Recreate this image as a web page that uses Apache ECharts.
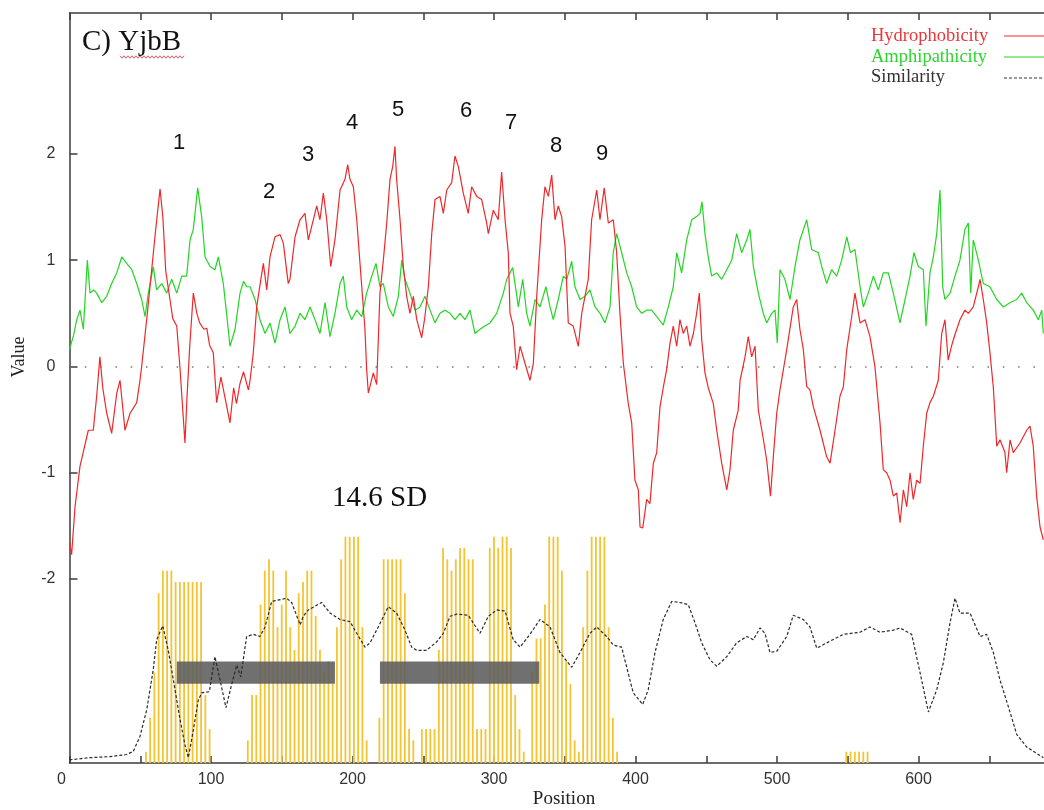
<!DOCTYPE html>
<html>
<head>
<meta charset="utf-8">
<script src="https://cdn.jsdelivr.net/npm/echarts@6/dist/echarts.min.js"></script>
<style>
html,body{margin:0;padding:0;background:#fff;}
#chart{width:1044px;height:810px;}
</style>
</head>
<body>
<div id="chart"></div>
<script>
// ---- data ----
const xTicks = [0, 100, 200, 300, 400, 500, 600, 700];
const yTicks = [-2, -1, 0, 1, 2];
const peakLabels = ['1', '2', '3', '4', '5', '6', '7', '8', '9'];
const seriesNames = ['Hydrophobicity', 'Amphipathicity', 'Similarity'];

const hydrophobicity = [[0,-1.66],[1.5,-1.77],[3.9,-1.32],[7.4,-0.94],[9.8,-0.8],[13.3,-0.6],[16.8,-0.6],[19.2,-0.28],[21.5,0.09],[23.5,-0.2],[26.3,-0.44],[29.8,-0.63],[33.4,-0.25],[35.7,-0.13],[39.2,-0.6],[42.8,-0.44],[47.5,-0.34],[49.8,-0.13],[51,0],[55,0.5],[58,0.9],[61,1.3],[64,1.67],[66,1.4],[68,0.9],[71,0.63],[73,0.45],[75.8,0.38],[78,0],[80,-0.4],[81.6,-0.72],[83,-0.3],[85,0.2],[87.5,0.69],[90,0.5],[92,0.41],[95,0.35],[97,0.36],[99,0.2],[101.6,0.13],[104,-0.34],[107,-0.1],[110,-0.3],[113.4,-0.53],[116,-0.2],[118,-0.35],[120.5,-0.16],[123,-0.05],[126.4,-0.22],[127.6,-0.13],[129.9,0.13],[132.3,0.56],[135,0.8],[137,0.97],[139.4,0.72],[141.7,1.03],[145.2,1.22],[148.8,1.24],[151.1,1.16],[154.6,0.78],[155.8,0.82],[159.4,1.22],[162.9,1.38],[166.4,1.44],[168.8,1.19],[172.3,1.38],[174.7,1.51],[177,1.38],[179.4,1.63],[181.8,1.38],[184.6,0.94],[187.6,1.19],[191.2,1.66],[194.7,1.76],[196.6,1.9],[198.2,1.76],[200.6,1.69],[203,1.38],[205.3,0.97],[208.8,0.35],[210,-0.03],[211.2,-0.25],[214.7,-0.06],[217.1,-0.17],[219.4,0.69],[221.8,1.0],[224.2,1.35],[226.5,1.76],[228.4,1.88],[230,2.07],[231.2,1.76],[233.6,1.38],[235.9,0.94],[238.3,0.66],[240.6,0.5],[243,0.66],[245.4,0.44],[248.9,0.27],[251.2,0.47],[253.6,0.75],[256,1.25],[258.3,1.57],[261.8,1.6],[264.2,1.44],[266.6,1.66],[270.1,1.73],[272.4,1.98],[274.8,1.88],[278.3,1.63],[281.8,1.44],[284.2,1.69],[287.8,1.6],[291.3,1.57],[294.8,1.35],[296,1.25],[299.5,1.47],[303,1.38],[305.4,1.83],[307.8,1.38],[310.1,1.07],[311.3,0.5],[313.6,0.38],[316,-0.03],[318.4,0.19],[321.9,0.03],[325.4,-0.13],[327.8,0.03],[330.2,0.66],[333.7,1.38],[336,1.69],[338.4,1.6],[340.8,1.8],[343.1,1.38],[345.4,1.51],[347.8,1.41],[350.2,1.13],[352.5,0.41],[356,0.38],[359.6,0.19],[362,0.5],[364.3,0.66],[366.6,0.82],[369,1.38],[372.6,1.66],[374.9,1.38],[377.9,1.68],[380.8,1.35],[384.3,1.38],[386.7,1.07],[389,0.5],[391.4,0.03],[394.9,-0.35],[397.3,-0.53],[399.6,-1.07],[402,-1.16],[403.2,-1.51],[405.1,-1.52],[407.9,-1.25],[410.2,-1.29],[412.6,-0.91],[415,-0.81],[417.3,-0.38],[419.6,-0.2],[422,-0.03],[424.4,0.22],[426.7,0.38],[429.1,0.19],[431.4,0.44],[433.8,0.31],[436.2,0.38],[438.5,0.19],[440.9,0.31],[443.2,0.5],[445.1,0.69],[446.8,0.25],[449.1,-0.06],[451.4,-0.2],[455,-0.35],[457.4,-0.6],[460.9,-0.91],[464.5,-1.16],[466.8,-0.97],[469.1,-0.6],[472.6,-0.41],[473.9,-0.13],[477.4,0.09],[479.7,0.28],[482.1,0.09],[484.5,0.19],[486.8,-0.41],[490.3,-0.68],[492.7,-0.88],[495.4,-1.22],[497.4,-0.85],[499.8,-0.44],[502.1,-0.22],[506.9,0.16],[511.5,0.56],[513.9,0.63],[516.2,0.35],[518.6,0.16],[521,-0.19],[523.3,-0.22],[525.7,-0.38],[530.4,-0.6],[535.1,-0.85],[537.5,-0.91],[541,-0.6],[544.5,-0.28],[546.9,-0.19],[549.3,0.16],[552.8,0.47],[555.1,0.69],[558.7,0.41],[562.2,0.44],[565.7,0.28],[569.2,0],[572.8,-0.53],[575.1,-0.97],[577.5,-1.0],[579.9,-1.07],[582.2,-1.22],[584.6,-1.19],[587,-1.47],[589.3,-1.16],[591.7,-1.32],[594,-1.0],[596.3,-1.25],[598.7,-1.07],[601.1,-1.1],[603.4,-0.75],[605.8,-0.44],[608.1,-0.34],[610.5,-0.28],[614,-0.13],[616.4,0.31],[618.7,0.44],[621,0.06],[623.5,0.2],[626,0.31],[629.3,0.44],[632.8,0.53],[635.2,0.5],[638.7,0.56],[642.3,0.75],[643.5,0.82],[645.8,0.63],[648.2,0.41],[650.5,0.13],[652.9,-0.2],[655.3,-0.75],[657.6,-0.69],[661.1,-0.81],[662.3,-1.0],[664.7,-0.69],[667,-0.81],[671.7,-0.72],[676.5,-0.6],[678.8,-0.56],[681.1,-0.75],[683.5,-1.22],[685.9,-1.51],[688.2,-1.63]];

const amphipathicity = [[0,0.16],[3,0.3],[5.1,0.44],[7.4,0.53],[9.8,0.35],[12.6,1.0],[14.5,0.69],[17,0.72],[19.2,0.69],[22.8,0.6],[26.3,0.66],[29.8,0.78],[33.4,0.88],[36.9,1.03],[40.4,0.97],[44,0.91],[47.5,0.78],[51,0.63],[53.4,0.47],[55.7,0.69],[59.2,0.94],[61.6,0.72],[65.2,0.78],[68.7,0.69],[72.2,0.82],[75.8,0.69],[79.3,0.85],[82.8,0.85],[85.2,1.19],[87.5,1.29],[90.6,1.68],[93.4,1.41],[95.8,1.03],[99.3,0.94],[102.8,0.91],[105.2,1.03],[108.7,0.78],[111,0.5],[113.4,0.19],[117,0.35],[120.5,0.69],[123,0.8],[125.2,0.75],[127.6,0.75],[131.1,0.63],[134.6,0.44],[138.2,0.31],[141.7,0.41],[145.2,0.22],[148.8,0.44],[152.3,0.56],[155.8,0.31],[159.4,0.38],[162.9,0.5],[166.4,0.44],[170,0.56],[173.5,0.44],[177,0.31],[180.6,0.6],[184.1,0.28],[187.6,0.5],[191.2,0.78],[193.5,0.85],[195.9,0.56],[199.4,0.44],[203,0.53],[206.5,0.47],[210,0.69],[213.6,0.85],[216.6,0.97],[219.4,0.75],[221.8,0.78],[225.3,0.56],[228.8,0.47],[232.4,0.66],[234.8,1.0],[237.1,0.82],[240.6,0.69],[244.2,0.53],[247.7,0.56],[251.2,0.66],[254.8,0.53],[258.3,0.41],[261.8,0.5],[265.4,0.53],[268.9,0.5],[272.4,0.44],[276,0.5],[279.5,0.44],[283,0.53],[286.6,0.31],[290.1,0.35],[293.6,0.38],[297.2,0.41],[301.9,0.5],[306.6,0.69],[309,0.82],[313.2,0.93],[317.2,0.56],[320.3,0.82],[323.1,0.5],[325.4,0.38],[329,0.63],[332.5,0.56],[336.7,0.75],[339.6,0.56],[341.9,0.44],[345.4,0.63],[349,0.85],[351.4,0.82],[354.9,0.99],[357.2,0.75],[360.8,0.63],[364.3,0.66],[367.8,0.72],[371.4,0.56],[374.9,0.5],[378.4,0.41],[382,0.56],[384.3,1.07],[386.7,1.25],[390.2,1.07],[393.8,0.88],[397.3,0.75],[400.8,0.56],[404.4,0.5],[407.9,0.53],[411.4,0.53],[415,0.47],[419.6,0.39],[423.2,0.56],[426.7,0.75],[429.1,1.07],[432.6,0.88],[436.2,1.19],[439.7,1.38],[443.2,1.41],[445.6,1.44],[447,1.55],[449.1,1.25],[451.4,1.03],[453.8,0.85],[457.4,0.88],[460.9,0.82],[464.5,0.91],[468,1.0],[471.5,1.25],[475,1.07],[478.6,1.19],[480.9,1.29],[483.3,0.94],[486.8,0.69],[490.3,0.5],[492.7,0.41],[496.3,0.5],[498.6,0.53],[500.2,0.22],[502.1,0.91],[505.6,0.82],[509.2,0.63],[512.7,0.94],[516.2,1.19],[521,1.38],[524.5,1.1],[529.2,1.07],[531.6,0.94],[535.1,0.78],[538.6,0.91],[542.2,0.85],[545.7,1.0],[549.3,1.22],[551.9,1.07],[555.1,1.1],[558.7,0.75],[561,0.56],[564.5,0.69],[568.1,0.85],[571.6,0.72],[575.1,0.88],[578.7,0.88],[582.2,0.69],[586.9,0.41],[590.5,0.63],[594,0.85],[596.8,1.07],[599.9,0.94],[603.4,0.91],[605.3,0.38],[608.1,0.88],[610.5,1.03],[612.9,1.25],[615.2,1.66],[617.1,0.75],[618.7,0.63],[622.3,0.69],[625.8,0.85],[629.3,1.0],[632.8,1.29],[635.2,1.35],[636.9,0.69],[638.7,1.19],[642.3,1.0],[645.8,0.78],[650.5,0.75],[655.3,0.63],[659.9,0.56],[664.7,0.6],[669.4,0.63],[672.9,0.69],[676.5,0.6],[681.1,0.53],[684.7,0.44],[687.1,0.53],[688.2,0.31]];

const similarity = [[0,-3.7],[14.5,-3.68],[28.6,-3.67],[40.4,-3.65],[45.1,-3.62],[49.8,-3.48],[54.6,-3.23],[59.2,-2.85],[61.6,-2.57],[65.9,-2.44],[69.8,-2.67],[73.4,-2.95],[78.1,-3.32],[81.6,-3.56],[84,-3.68],[87.5,-3.42],[91,-3.14],[93.4,-3.07],[98.8,-3.06],[102.8,-2.73],[106.4,-2.95],[110.6,-3.21],[114.6,-2.99],[118.2,-2.81],[121,-2.92],[125.2,-2.54],[130,-2.52],[134.6,-2.54],[138.2,-2.45],[142.9,-2.21],[150,-2.19],[153.5,-2.18],[157,-2.22],[163,-2.43],[165.2,-2.35],[168.8,-2.29],[178.2,-2.22],[184.1,-2.32],[191.2,-2.38],[198.2,-2.4],[203,-2.51],[208.8,-2.64],[212.4,-2.6],[218.2,-2.45],[225.3,-2.26],[231.2,-2.32],[237.1,-2.48],[241.8,-2.64],[245.4,-2.67],[252.4,-2.67],[259.5,-2.59],[264.2,-2.51],[268.9,-2.35],[273.6,-2.33],[281.8,-2.34],[290.1,-2.51],[296,-2.35],[301.9,-2.29],[307.8,-2.3],[313.6,-2.57],[318.4,-2.64],[325.4,-2.52],[332.5,-2.38],[339.6,-2.45],[346.6,-2.69],[354.9,-2.83],[360.8,-2.69],[367.8,-2.51],[372.6,-2.45],[379.6,-2.54],[384.3,-2.62],[390.2,-2.64],[393.8,-2.83],[398.4,-3.07],[405.1,-3.18],[409,-3.04],[413.8,-2.69],[419.6,-2.38],[425.6,-2.21],[431.4,-2.22],[437.3,-2.24],[442,-2.41],[446.8,-2.6],[452.7,-2.76],[457.4,-2.82],[464.5,-2.73],[471.5,-2.6],[478.6,-2.54],[483.3,-2.57],[488,-2.46],[491.5,-2.51],[495,-2.69],[499.8,-2.68],[506.9,-2.54],[511.5,-2.34],[518.6,-2.38],[523.3,-2.45],[528.1,-2.65],[535.1,-2.6],[546.9,-2.52],[558.7,-2.5],[565.7,-2.45],[572.8,-2.5],[582.2,-2.48],[587,-2.46],[595.2,-2.52],[601.1,-2.88],[607,-3.25],[612.9,-3.04],[617.5,-2.79],[622.3,-2.41],[625.8,-2.18],[629.3,-2.32],[636.4,-2.32],[643.5,-2.54],[648.2,-2.52],[652.9,-2.69],[657.6,-2.95],[663.5,-3.2],[669.4,-3.46],[676.5,-3.58],[688.3,-3.68]];

// yellow bars: residue position and score level
const barPositions = [54,57,60,63,66,69,72,75,78,81,84,87,90,93,96,99,
  126,129,132,135,138,141,144,147,150,153,156,159,162,165,168,171,174,177,180,183,186,189,192,195,198,201,204,207,210,
  219,222,225,228,231,234,237,240,243,
  249,252,255,258,261,264,267,270,273,276,279,282,285,288,291,294,297,300,303,306,309,312,315,318,321,
  327,330,333,336,339,342,345,348,351,354,357,360,
  363,366,369,372,375,378,381,384,387,
  549,552,555,558,561,564];
const barScores = [1,4,8,15,17,17,17,16,16,16,16,16,16,16,6,3,
  2,6,6,14,17,18,17,12,14,17,12,10,15,16,17,17,13,10,8,9,7,12,18,20,20,20,20,12,2,
  4,18,18,18,18,18,15,3,2,
  3,3,3,3,10,19,18,17,18,19,19,18,18,3,3,3,19,20,19,20,20,19,6,3,1,
  8,11,11,14,20,20,20,17,9,7,2,1,
  12,17,20,20,20,20,12,4,1,
  1,1,1,1,1,1];

// grey blocks (start, end, upper value, lower value)
const blockStart = [75.8, 219.4];
const blockEnd = [187.6, 332.0];
const blockTop = [-2.775, -2.775];
const blockBottom = [-2.985, -2.985];

// ---- chart ----
const chart = echarts.init(document.getElementById('chart'), null, {renderer: 'canvas'});
const axisColor = '#3d3d3d';
const serif = '"Liberation Serif", "DejaVu Serif", serif';
const sans = '"Liberation Sans", Arial, sans-serif';

const peakPos = [[179,143],[269,192],[308,155],[352,123],[398,110],[466,111],[511,123],[556,146],[602,154]];

const squiggle = [];
for (let x = 120; x <= 184; x += 2) squiggle.push([x, 57 + ((x / 2) % 2 === 0 ? -1.2 : 1.2)]);

const graphics = [
  {type:'text', left:82, top:28, style:{text:'C) YjbB', font:'29px ' + serif, fill:'#111'}},
  {type:'polyline', shape:{points:squiggle}, style:{stroke:'#e03030', lineWidth:0.8, fill:null}},
  {type:'text', x:332, y:498, style:{text:'14.6 SD', font:'29px ' + serif, fill:'#111', verticalAlign:'middle'}},
  {type:'text', x:19, y:357, rotation:Math.PI/2, style:{text:'Value', font:'18px ' + serif, fill:'#222', align:'center', verticalAlign:'middle'}},
  {type:'text', x:564, y:799, style:{text:'Position', font:'19px ' + serif, fill:'#222', align:'center', verticalAlign:'middle'}},
  {type:'text', x:871, y:36, style:{text:seriesNames[0], font:'18.5px ' + serif, fill:'#e8383a', verticalAlign:'middle'}},
  {type:'text', x:871, y:57, style:{text:seriesNames[1], font:'18.5px ' + serif, fill:'#2ed42e', verticalAlign:'middle'}},
  {type:'text', x:871, y:77, style:{text:seriesNames[2], font:'18.5px ' + serif, fill:'#333', verticalAlign:'middle'}},
  {type:'line', shape:{x1:1004, y1:36, x2:1044, y2:36}, style:{stroke:'#f0282a', lineWidth:1.2}},
  {type:'line', shape:{x1:1004, y1:57, x2:1044, y2:57}, style:{stroke:'#22d622', lineWidth:1.2}},
  {type:'line', shape:{x1:1004, y1:78, x2:1044, y2:78}, style:{stroke:'#333', lineWidth:1, lineDash:[3,2]}}
];
peakLabels.forEach((t, i) => {
  graphics.push({type:'text', x:peakPos[i][0], y:peakPos[i][1], style:{text:t, font:'22px ' + sans, fill:'#111', align:'center', verticalAlign:'middle'}});
});

const option = {
  animation: false,
  backgroundColor: '#fff',
  grid: {left: 69.5, top: 13, width: 990.5, height: 750, containLabel: false, outerBoundsMode: 'none'},
  xAxis: [
    {
      type: 'value', position: 'bottom', min: 0, max: 700, interval: 50,
      axisLine: {show: true, onZero: false, lineStyle: {color: axisColor, width: 1.5}},
      axisTick: {show: true, inside: true, length: 7, lineStyle: {color: axisColor, width: 1.5}},
      axisLabel: {
        margin: 9, color: '#333', fontFamily: sans, fontSize: 16,
        formatter: v => (xTicks.indexOf(v) >= 0 ? (v === 0 ? '{z|0}' : String(v)) : ''),
        rich: {z: {fontFamily: sans, fontSize: 16, color: '#333', padding: [0, 16, 0, 0]}}
      },
      splitLine: {show: false}
    },
    {
      type: 'value', position: 'top', min: 0, max: 700, interval: 50,
      axisLine: {show: true, onZero: false, lineStyle: {color: axisColor, width: 1.5}},
      axisTick: {show: true, inside: true, length: 7, lineStyle: {color: axisColor, width: 1.5}},
      axisLabel: {show: false},
      splitLine: {show: false}
    }
  ],
  yAxis: [
    {
      type: 'value', min: -3.73, max: 3.325,
      axisLine: {show: true, onZero: false, lineStyle: {color: axisColor, width: 1.5}},
      axisTick: {show: true, inside: true, length: 8, customValues: yTicks, lineStyle: {color: axisColor, width: 1.5}},
      axisLabel: {show: true, customValues: yTicks, margin: 14, color: '#333', fontFamily: sans, fontSize: 16},
      splitLine: {show: false}
    },
    {type: 'value', min: 0, max: 66.28, show: false, splitLine: {show: false}}
  ],
  series: [
    {
      name: 'score', type: 'bar', xAxisIndex: 0, yAxisIndex: 1, barWidth: 1.8, silent: true, z: 1,
      itemStyle: {color: '#f4c433'},
      data: barPositions.map((p, i) => [p, barScores[i]])
    },
    {
      name: 'blocks', type: 'custom', xAxisIndex: 0, yAxisIndex: 0, z: 2, silent: true,
      encode: {x: [0, 1], y: [2, 3]},
      renderItem: (params, api) => {
        const a = api.coord([api.value(0), api.value(2)]);
        const b = api.coord([api.value(1), api.value(3)]);
        return {type: 'rect', shape: {x: a[0], y: a[1], width: b[0] - a[0], height: b[1] - a[1]}, style: {fill: 'rgba(92,92,92,0.88)'}};
      },
      data: blockStart.map((s, i) => [s, blockEnd[i], blockTop[i], blockBottom[i]])
    },
    {
      name: seriesNames[2], type: 'line', xAxisIndex: 0, yAxisIndex: 0, z: 4, symbol: 'none', silent: true,
      lineStyle: {color: '#2a2a2a', width: 1.2, type: [3, 2]},
      data: similarity
    },
    {
      name: seriesNames[1], type: 'line', xAxisIndex: 0, yAxisIndex: 0, z: 5, symbol: 'none', silent: true,
      lineStyle: {color: '#22d622', width: 1.2},
      data: amphipathicity
    },
    {
      name: seriesNames[0], type: 'line', xAxisIndex: 0, yAxisIndex: 0, z: 6, symbol: 'none', silent: true,
      lineStyle: {color: '#f0282a', width: 1.2},
      data: hydrophobicity,
      markLine: {
        silent: true, symbol: 'none', label: {show: false},
        lineStyle: {color: '#777', width: 1.5, type: [1.5, 13.8]},
        data: [{yAxis: 0}]
      }
    }
  ],
  graphic: graphics
};
chart.setOption(option);
</script>
</body>
</html>
